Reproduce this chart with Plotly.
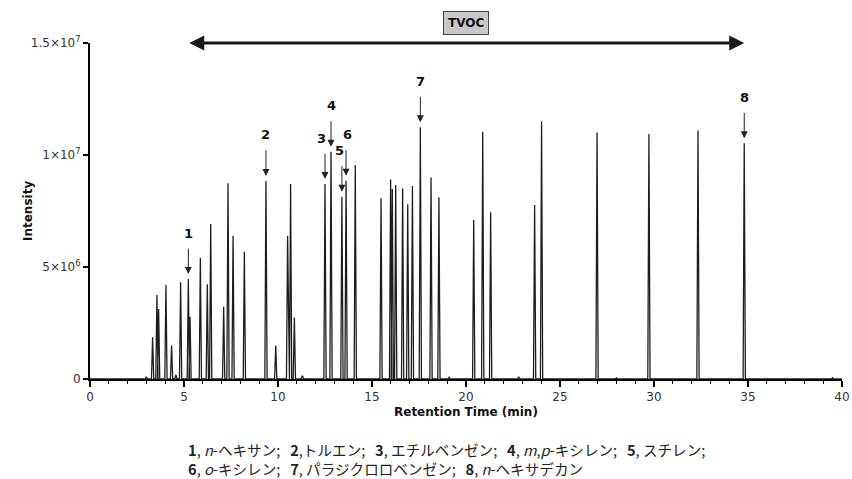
import plotly.graph_objects as go

# ---- data ----
peak_times = [3.00, 3.33, 3.56, 3.65, 4.04, 4.34, 4.57, 4.82, 5.23, 5.32, 5.87, 6.24, 6.42,
              7.11, 7.34, 7.61, 8.21, 9.36, 9.88, 10.51, 10.67, 10.87, 11.30, 12.50, 12.82,
              13.40, 13.62, 14.11, 15.48, 15.99, 16.08, 16.26, 16.63, 16.90, 17.15, 17.57,
              18.14, 18.56, 19.10, 20.41, 20.89, 21.31, 22.80, 23.65, 24.02, 26.97, 28.00,
              29.73, 32.34, 34.80, 39.50]
peak_heights = [0.10e6, 1.86e6, 3.75e6, 3.12e6, 4.20e6, 1.49e6, 0.18e6, 4.32e6, 4.46e6, 2.78e6,
                5.41e6, 4.23e6, 6.92e6, 3.23e6, 8.74e6, 6.40e6, 5.68e6, 8.84e6, 1.49e6, 6.40e6,
                8.70e6, 2.75e6, 0.15e6, 8.70e6, 10.15e6, 8.14e6, 8.85e6, 9.55e6, 8.07e6, 8.91e6,
                8.48e6, 8.66e6, 8.51e6, 7.80e6, 8.62e6, 11.24e6, 8.99e6, 8.11e6, 0.08e6, 7.10e6,
                11.04e6, 7.44e6, 0.10e6, 7.77e6, 11.49e6, 11.01e6, 0.05e6, 10.94e6, 11.09e6,
                10.52e6, 0.06e6]

# labelled compounds: label, retention time, peak height
compound_labels = ["1", "2", "3", "4", "5", "6", "7", "8"]
compound_times = [5.23, 9.36, 12.50, 12.82, 13.40, 13.62, 17.57, 34.80]
compound_heights = [4.46e6, 8.84e6, 8.70e6, 10.15e6, 8.14e6, 8.85e6, 11.24e6, 10.52e6]
label_xshift = [0, 0, -4, 0, -2, 1, 0, 0]

tvoc_start, tvoc_end = 5.2, 34.8

y_tickvals = [0, 5e6, 1e7, 1.5e7]
y_ticktext = ["0", "5×10<sup>6</sup>", "1×10<sup>7</sup>", "1.5×10<sup>7</sup>"]
x_tickvals = [0, 5, 10, 15, 20, 25, 30, 35, 40]

sp = "\u00a0\u00a0\u00a0"
caption = ("<b>1</b>, <i>n</i>-ヘキサン;" + sp + "<b>2</b>,トルエン;" + sp + "<b>3</b>, エチルベンゼン;"
           + sp + "<b>4</b>, <i>m</i>,<i>p</i>-キシレン;" + sp + "<b>5</b>, スチレン;<br>"
           "<b>6</b>, <i>o</i>-キシレン;" + sp + "<b>7</b>, パラジクロロベンゼン;" + sp
           + "<b>8</b>, <i>n</i>-ヘキサデカン")

# ---- build the trace (each peak as a narrow spike) ----
hw = 0.06
pts = [(0.0, 0.0)]
for t, h in sorted(zip(peak_times, peak_heights)):
    pts += [(t - hw, 0.0), (t, h), (t + hw, 0.0)]
pts.append((40.0, 0.0))
xs = [p[0] for p in pts]
ys = [p[1] for p in pts]

fig = go.Figure()
fig.add_trace(go.Scatter(x=xs, y=ys, mode="lines",
                         line=dict(color="#1e1e1e", width=1.3), hoverinfo="skip",
                         showlegend=False, cliponaxis=False))

font_main = "DejaVu Sans"
ann = []
for lab, t, h, xs_ in zip(compound_labels, compound_times, compound_heights, label_xshift):
    ann.append(dict(x=t, y=h, xref="x", yref="y", text="", showarrow=True,
                    ax=0, ay=-32, standoff=5, arrowhead=2, arrowsize=1.4,
                    arrowwidth=1, arrowcolor="#222"))
    ann.append(dict(x=t, y=h, xref="x", yref="y", text="<b>%s</b>" % lab,
                    showarrow=False, yshift=46, xshift=xs_,
                    font=dict(family=font_main, size=13, color="#111")))

# TVOC double arrow
ann.append(dict(x=tvoc_end, y=1.5e7, ax=tvoc_start, ay=1.5e7, xref="x", yref="y",
                axref="x", ayref="y", text="", showarrow=True, arrowside="end+start",
                arrowhead=2, arrowsize=1.0, arrowwidth=3, arrowcolor="#1a1a1a"))
ann.append(dict(x=0.5, y=1.0595, xref="paper", yref="paper", text="<b>TVOC</b>",
                xanchor="center", yanchor="middle",
                showarrow=False, bgcolor="#c8c8c8", bordercolor="#444", borderwidth=1,
                borderpad=4, font=dict(family=font_main, size=12, color="#111")))

# axis titles
ann.append(dict(x=-0.0824, y=0.5, xref="paper", yref="paper", text="<b>Intensity</b>",
                xanchor="center", yanchor="middle",
                textangle=-90, showarrow=False,
                font=dict(family=font_main, size=12, color="#111")))
ann.append(dict(x=0.5, y=-0.0982, xref="paper", yref="paper",
                xanchor="center", yanchor="middle",
                text="<b>Retention Time (min)</b>", showarrow=False,
                font=dict(family=font_main, size=12, color="#111")))
# caption
ann.append(dict(x=0.1277, y=-0.238, xref="paper", yref="paper", xanchor="left",
                yanchor="middle", align="left", text=caption, showarrow=False,
                font=dict(family="Noto Sans CJK JP", size=14.6, color="#222")))

fig.update_layout(
    width=852, height=479,
    margin=dict(l=90, r=10, t=43, b=100, autoexpand=False),
    paper_bgcolor="white", plot_bgcolor="white",
    font=dict(family=font_main, size=12, color="#333"),
    annotations=ann,
    xaxis=dict(range=[0, 40], tickvals=x_tickvals, showgrid=False, zeroline=False,
               automargin=False,
               showline=True, linecolor="black", linewidth=2, ticks="outside",
               ticklen=6, tickwidth=1.5, tickcolor="black",
               minor=dict(dtick=1, ticks="outside", ticklen=3, tickcolor="black", tickwidth=1),
               tickfont=dict(family=font_main, size=12, color="#333")),
    yaxis=dict(range=[0, 1.5e7], tickvals=y_tickvals, ticktext=y_ticktext,
               automargin=False,
               showgrid=False, zeroline=False, showline=True, linecolor="black",
               linewidth=2, ticks="outside", ticklen=5, tickwidth=1.5, tickcolor="black",
               tickfont=dict(family=font_main, size=12, color="#333")),
)

fig.write_html("out.html", config={"displayModeBar": False},
               post_script="document.body.style.margin='0';document.body.style.overflow='hidden';")
